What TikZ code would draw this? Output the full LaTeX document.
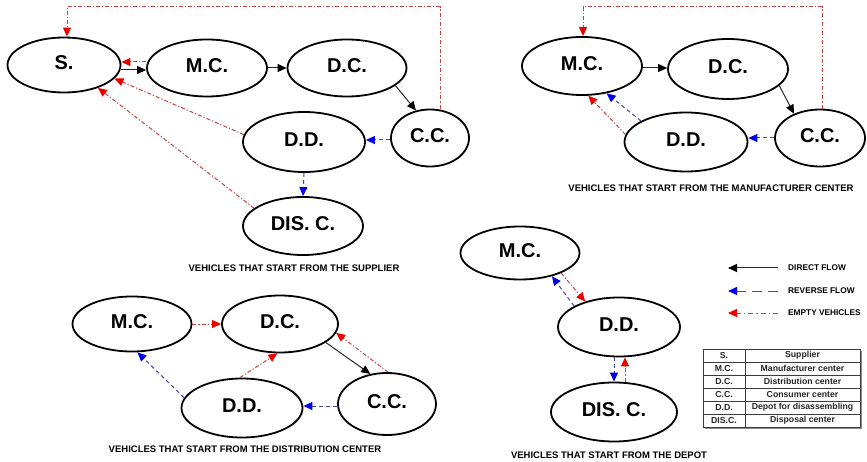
\documentclass[tikz,border=0pt]{standalone}
\usepackage{fontspec}
\setmainfont{Liberation Sans}
\usetikzlibrary{shapes.geometric,arrows.meta}
\definecolor{revline}{RGB}{70,70,170}
\definecolor{revtip}{RGB}{0,0,235}
\definecolor{emline}{RGB}{190,70,70}
\definecolor{emtip}{RGB}{235,0,0}
\definecolor{tabline}{RGB}{60,60,60}
\begin{document}
\begin{tikzpicture}[x=1pt,y=-1pt,
  place/.style={ellipse, draw, line width=1.8pt, inner sep=0pt,
    font=\bfseries\fontsize{20}{24}\selectfont, text depth=5pt},
  direct/.style={draw=black!85, line width=1pt, -{Triangle[length=9pt,width=8pt,color=black]}},
  reverse/.style={draw=revline, line width=1pt, dash pattern=on 4pt off 3pt,
    -{Triangle[length=9pt,width=8pt,color=revtip]}},
  emptyv/.style={draw=emline, line width=1pt, dash pattern=on 4pt off 2pt on 1.2pt off 2pt,
    -{Triangle[length=9pt,width=8pt,color=emtip]}},
  caption/.style={font=\bfseries\fontsize{9.5}{11}\selectfont, inner sep=0pt},
  legtext/.style={font=\bfseries\fontsize{8.3}{10}\selectfont, inner sep=0pt, anchor=west},
  cell/.style={font=\bfseries\fontsize{8.7}{10}\selectfont, inner sep=0pt, text=black!85}
]
\useasboundingbox (0,0) rectangle (867,462);

% ---------------- Panel 1: supplier
\node[place, minimum width=113pt, minimum height=55pt] (S) at (64,65) {S.};
\node[place, minimum width=120pt, minimum height=57pt] (MC1) at (207,68) {M.C.};
\node[place, minimum width=119pt, minimum height=57pt] (DC1) at (347,68) {D.C.};
\node[place, minimum width=78pt, minimum height=57pt] (CC1) at (430,138) {C.C.};
\node[place, minimum width=122pt, minimum height=60pt] (DD1) at (304,142) {D.D.};
\node[place, minimum width=120pt, minimum height=58pt] (DIS1) at (303,226) {DIS. C.};
\node[caption] (cap1) at (294,268) {VEHICLES THAT START FROM THE SUPPLIER};

\draw[direct] ([yshift=-5pt]S.east) -- ([yshift=-2pt]MC1.west);
\draw[emptyv] ([yshift=6pt]MC1.west) -- ([yshift=3pt]S.east);
\draw[direct] (MC1.east) -- (DC1.west);
\draw[direct] (DC1.-20) -- (CC1.117);
\draw[reverse] ([yshift=-2pt]CC1.west) -- ([yshift=2pt]DD1.east);
\draw[emptyv] (DD1.173) -- (S.-15);
\draw[emptyv] (DIS1.160) -- (S.-34);
\draw[reverse] (DD1.south) -- (DIS1.north);
\coordinate (top1) at (0,7);
\coordinate (cc1t) at ([xshift=10pt]CC1.north);
\coordinate (s1t) at ([xshift=3pt]S.north);
\draw[emptyv] (cc1t) -- (cc1t |- top1) -| (s1t);

% ---------------- Panel 2: manufacturer center
\node[place, minimum width=120pt, minimum height=58pt] (MC2) at (582,66) {M.C.};
\node[place, minimum width=120pt, minimum height=60pt] (DC2) at (728,69) {D.C.};
\node[place, minimum width=90pt, minimum height=57pt] (CC2) at (820,138) {C.C.};
\node[place, minimum width=123pt, minimum height=59pt] (DD2) at (686,142) {D.D.};
\node[caption] (cap2) at (711,188) {VEHICLES THAT START FROM THE MANUFACTURER CENTER};

\draw[direct] ([yshift=-2pt]MC2.east) -- ([yshift=1pt]DC2.west);
\draw[direct] (DC2.-18) -- (CC2.137);
\draw[reverse] (CC2.west) -- ([yshift=4pt]DD2.east);
\draw[reverse] (DD2.155) -- (MC2.-48);
\draw[emptyv] (DD2.173) -- (MC2.-78);
\coordinate (cc2t) at ([xshift=2pt]CC2.north);
\coordinate (m2t) at ([xshift=1pt]MC2.north);
\draw[emptyv] (cc2t) -- (cc2t |- top1) -| (m2t);

% ---------------- Panel 3: distribution center
\node[place, minimum width=119pt, minimum height=55pt] (MC3) at (132,324) {M.C.};
\node[place, minimum width=116pt, minimum height=57pt] (DC3) at (280,324) {D.C.};
\node[place, minimum width=121pt, minimum height=59pt] (DD3) at (242,408) {D.D.};
\node[place, minimum width=98pt, minimum height=62pt] (CC3) at (387,404) {C.C.};
\node[caption] (cap3) at (245,449) {VEHICLES THAT START FROM THE DISTRIBUTION CENTER};

\draw[emptyv] (MC3.east) -- (DC3.west);
\draw[reverse] (DD3.170) -- (MC3.-79);
\draw[emptyv] (DD3.94) -- (DC3.-95);
\draw[direct] (DC3.-22) -- (CC3.119);
\draw[emptyv] (CC3.88) -- (DC3.-9);
\draw[reverse] ([yshift=-2pt]CC3.west) -- ([yshift=2pt]DD3.east);

% ---------------- Panel 4: depot
\node[place, minimum width=119pt, minimum height=53pt] (MC4) at (520,253) {M.C.};
\node[place, minimum width=122pt, minimum height=59pt] (DD4) at (619,327) {D.D.};
\node[place, minimum width=126pt, minimum height=59pt] (DIS4) at (614,412) {DIS. C.};
\node[caption] (cap4) at (609,455) {VEHICLES THAT START FROM THE DEPOT};

\draw[emptyv] (MC4.-26) -- (DD4.143);
\draw[reverse] (DD4.155) -- (MC4.-36);
\draw[reverse] ([xshift=-5pt]DD4.south) -- (DIS4.north);
\draw[emptyv] ([xshift=11pt]DIS4.north) -- ([xshift=6pt]DD4.south);

% ---------------- Legend
\coordinate (l1a) at (778,268); \coordinate (l1b) at (728,268);
\coordinate (l2a) at (778,291); \coordinate (l2b) at (728,291);
\coordinate (l3a) at (778,313); \coordinate (l3b) at (728,313);
\draw[direct] (l1a) -- (l1b);
\draw[reverse, dash pattern=on 10pt off 6pt] (l2a) -- (l2b);
\draw[emptyv, dash pattern=on 5pt off 3pt on 1.5pt off 3pt] (l3a) -- (l3b);
\node[legtext] (t1) at (788,268) {DIRECT FLOW};
\node[legtext] (t2) at (788,291) {REVERSE FLOW};
\node[legtext] (t3) at (788,313) {EMPTY VEHICLES};

% ---------------- Table
\fill[black!45] (705,351) rectangle (862,429);
\fill[white] (703,349) rectangle (860,427);
\draw[tabline, line width=0.8pt] (703,349) rectangle (860,427);
\draw[tabline, line width=0.8pt] (745,349) -- (745,427);
\foreach \k in {1,...,5} {
  \draw[tabline, line width=0.8pt] (703,349+13*\k) -- (860,349+13*\k);
}
\foreach \a/\b [count=\i from 0] in {S./Supplier, M.C./Manufacturer center,
  D.C./Distribution center, C.C./Consumer center,
  D.D./Depot for disassembling, DIS.C./Disposal center} {
  \node[cell] (ka\i) at (724,355.5+13*\i) {\a};
  \node[cell] (kb\i) at (802.5,355.5+13*\i) {\b};
}
\end{tikzpicture}
\end{document}
